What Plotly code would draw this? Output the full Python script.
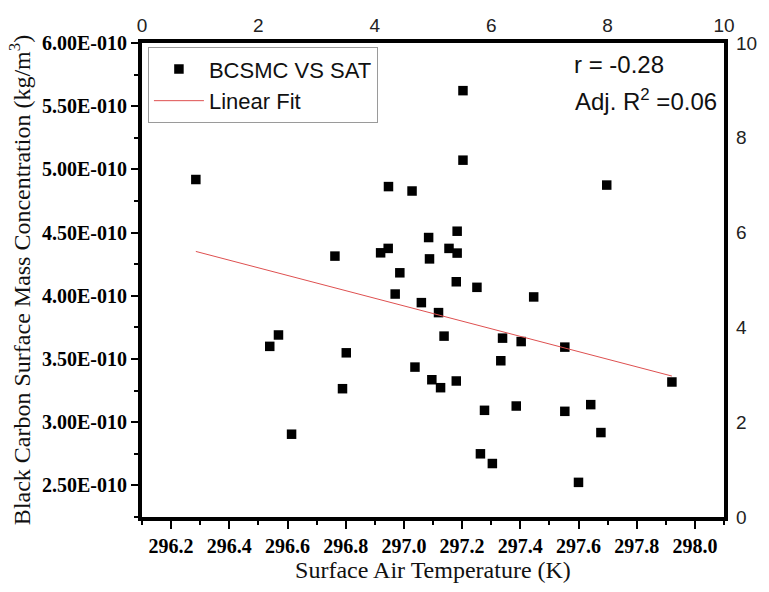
import plotly.graph_objects as go

# Surface Air Temperature (K)
sat = [296.285, 296.539, 296.569, 296.614, 296.763, 296.789, 296.802, 296.920,
       296.947, 296.946, 296.986, 296.970, 297.028, 297.060, 297.085, 297.088,
       297.038, 297.096, 297.119, 297.138, 297.126, 297.155, 297.183, 297.183,
       297.180, 297.180, 297.203, 297.203, 297.251, 297.263, 297.277, 297.304,
       297.333, 297.339, 297.386, 297.403, 297.446, 297.553, 297.553, 297.600,
       297.642, 297.677, 297.697, 297.921]
# Black carbon surface mass concentration (x1e-10 kg/m3)
bcsmc_e10 = [4.920, 3.600, 3.690, 2.905, 4.314, 3.265, 3.549, 4.340,
             4.864, 4.375, 4.182, 4.014, 4.829, 3.946, 4.461, 4.292,
             3.436, 3.336, 3.867, 3.681, 3.273, 4.375, 4.338, 4.511,
             4.111, 3.326, 5.623, 5.073, 4.067, 2.750, 3.094, 2.673,
             3.486, 3.665, 3.128, 3.638, 3.991, 3.594, 3.086, 2.524,
             3.139, 2.918, 4.876, 3.318]
bcsmc = [v * 1e-10 for v in bcsmc_e10]

# Linear fit end points
fit_x = [296.285, 297.921]
fit_y = [4.351e-10, 3.365e-10]

y_tick_vals = [2.5e-10, 3.0e-10, 3.5e-10, 4.0e-10, 4.5e-10, 5.0e-10, 5.5e-10, 6.0e-10]
y_tick_text = ["2.50E-010", "3.00E-010", "3.50E-010", "4.00E-010",
               "4.50E-010", "5.00E-010", "5.50E-010", "6.00E-010"]
x_tick_vals = [296.2, 296.4, 296.6, 296.8, 297.0, 297.2, 297.4, 297.6, 297.8, 298.0]
x_tick_text = ["296.2", "296.4", "296.6", "296.8", "297.0", "297.2", "297.4",
               "297.6", "297.8", "298.0"]
aux_tick_vals = [0, 2, 4, 6, 8, 10]
aux_tick_text = ["0", "2", "4", "6", "8", "10"]

serif = "Liberation Serif, Times New Roman, serif"
sans = "Liberation Sans, Arial, sans-serif"

fig = go.Figure()
fig.add_trace(go.Scatter(
    x=sat, y=bcsmc, mode="markers", name="BCSMC VS SAT",
    marker=dict(symbol="square", size=9.5, color="black", line=dict(width=0)),
))
fig.add_trace(go.Scatter(
    x=fit_x, y=fit_y, mode="lines", name="Linear Fit",
    line=dict(color="rgb(222,80,80)", width=1),
))
# empty trace to create the top/right auxiliary axes
fig.add_trace(go.Scatter(x=[], y=[], xaxis="x2", yaxis="y2", showlegend=False,
                         hoverinfo="skip"))

fig.update_layout(
    width=769, height=592,
    margin=dict(l=142, r=37, t=43, b=73),
    paper_bgcolor="white", plot_bgcolor="white",
    showlegend=True,
    legend=dict(
        x=0.0102, y=0.991, xanchor="left", yanchor="top",
        bgcolor="rgba(255,255,255,0)", bordercolor="#9a9a9a", borderwidth=1,
        font=dict(family=sans, size=22, color="#111"),
        itemwidth=50, tracegroupgap=0,
    ),
    xaxis=dict(
        range=[296.1, 298.1], tickmode="array", tickvals=x_tick_vals, ticktext=x_tick_text,
        showline=True, linecolor="black", linewidth=4, mirror=True,
        ticks="outside", ticklen=8, tickwidth=2, tickcolor="black",
        minor=dict(ticks="outside", ticklen=4, tickwidth=2, tickcolor="black",
                   dtick=0.1, tick0=296.1),
        showgrid=False, zeroline=False,
        tickfont=dict(family=serif, size=20, color="black", weight="bold"),
        title=dict(text="Surface Air Temperature (K)", standoff=6,
                   font=dict(family=serif, size=24, color="#111")),
    ),
    yaxis=dict(
        range=[2.25e-10, 6.0e-10], tickmode="array", tickvals=y_tick_vals, ticktext=y_tick_text,
        showline=True, linecolor="black", linewidth=4, mirror=True,
        ticks="outside", ticklen=7, tickwidth=2, tickcolor="black",
        minor=dict(ticks="outside", ticklen=4, tickwidth=2, tickcolor="black",
                   dtick=0.25e-10, tick0=2.25e-10),
        showgrid=False, zeroline=False,
        tickfont=dict(family=serif, size=20, color="black", weight="bold"),
        title=dict(text="Black Carbon Surface Mass Concentration (kg/m<sup>3</sup>)",
                   standoff=6, font=dict(family=serif, size=24, color="#111")),
    ),
    xaxis2=dict(
        overlaying="x", side="top", anchor="y", range=[0, 10],
        tickmode="array", tickvals=aux_tick_vals, ticktext=aux_tick_text,
        ticks="", showline=False, showgrid=False, zeroline=False,
        ticklabelstandoff=6,
        tickfont=dict(family=sans, size=19, color="#222"),
    ),
    yaxis2=dict(
        overlaying="y", side="right", anchor="x", range=[0, 10],
        tickmode="array", tickvals=aux_tick_vals, ticktext=aux_tick_text,
        ticks="", showline=False, showgrid=False, zeroline=False,
        ticklabelstandoff=11,
        tickfont=dict(family=sans, size=19, color="#222"),
    ),
    annotations=[
        dict(text="r = -0.28", xref="paper", yref="paper", x=0.738, y=0.955,
             xanchor="left", yanchor="middle", showarrow=False,
             font=dict(family=sans, size=24, color="#111")),
        dict(text="Adj. R<sup>2</sup> =0.06", xref="paper", yref="paper", x=0.741, y=0.88,
             xanchor="left", yanchor="middle", showarrow=False,
             font=dict(family=sans, size=24, color="#111")),
    ],
)

fig.write_html("out.html")
